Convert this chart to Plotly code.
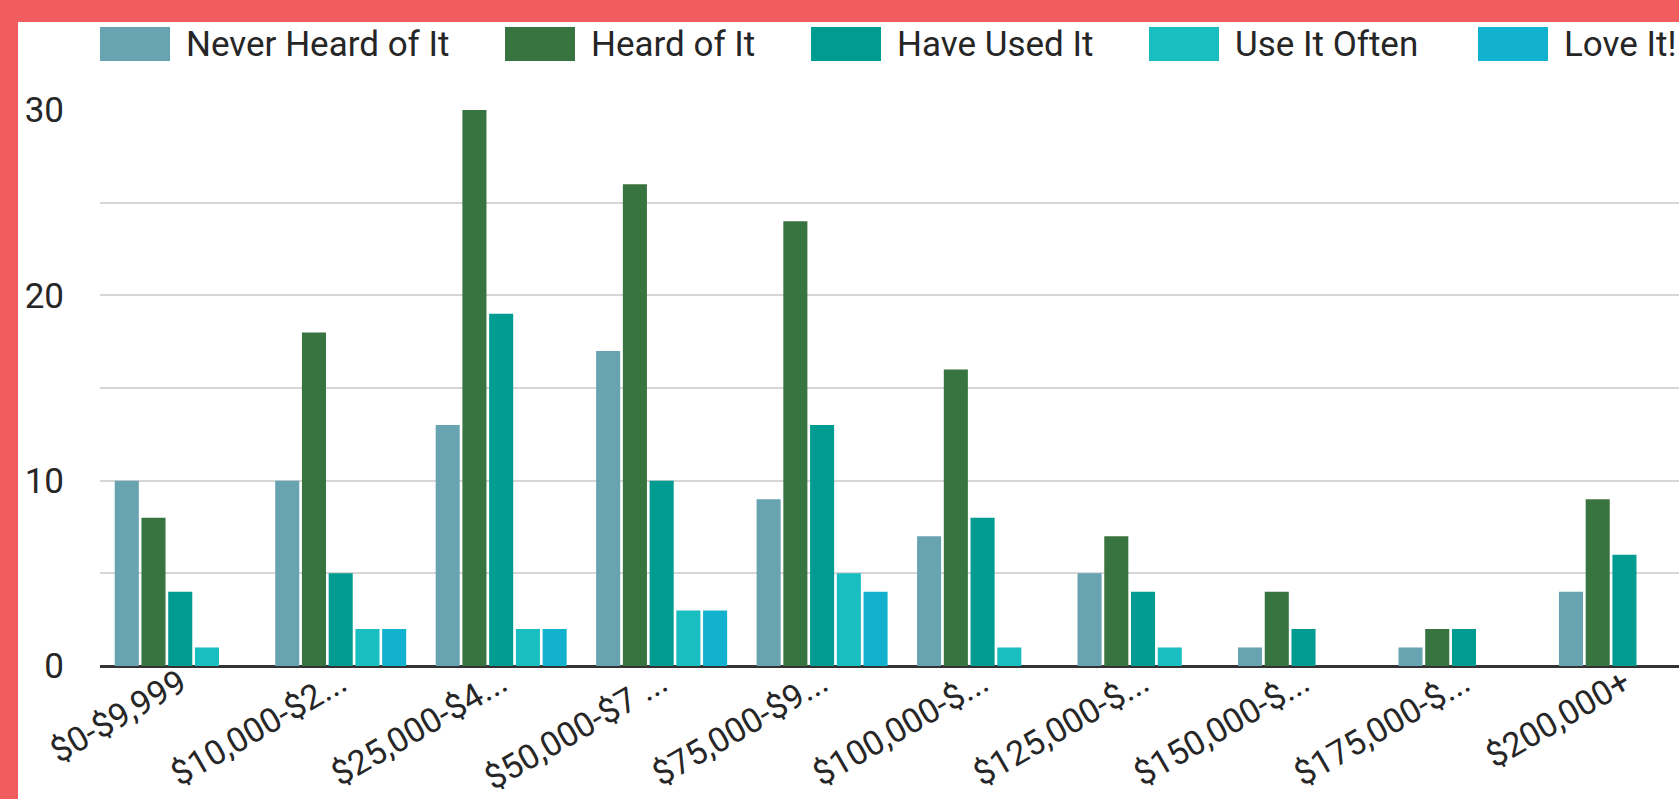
import plotly.graph_objects as go

# ---------------- data ----------------
categories = ["$0-$9,999", "$10,000-$2...", "$25,000-$4...", "$50,000-$7 ...",
              "$75,000-$9...", "$100,000-$...", "$125,000-$...", "$150,000-$...",
              "$175,000-$...", "$200,000+"]
series_names = ["Never Heard of It", "Heard of It", "Have Used It", "Use It Often", "Love It!"]
never_heard = [10, 10, 13, 17, 9, 7, 5, 1, 1, 4]
heard_of = [8, 18, 30, 26, 24, 16, 7, 4, 2, 9]
have_used = [4, 5, 19, 10, 13, 8, 4, 2, 2, 6]
use_often = [1, 2, 2, 3, 5, 1, 1, 0, 0, 0]
love_it = [0, 2, 2, 3, 4, 0, 0, 0, 0, 0]
y_tick_values = [0, 5, 10, 15, 20, 25, 30]
y_tick_labels = ["0", "", "10", "", "20", "", "30"]

# ---------------- style ----------------
colors = ["#67A3B0", "#387440", "#009B91", "#19BEC0", "#12B2CE"]
series_values = [never_heard, heard_of, have_used, use_often, love_it]
W, H = 1679, 799
ML, MR, MT, MB = 100, 0, 110, 133
PW, PH = W - ML - MR, H - MT - MB
FONT = "Roboto"
TEXT = "#262626"
RED = "#F15D5E"


def px_x(px):
    return (px - ML) / PW


def px_y(py):
    return (H - MB - py) / PH


fig = go.Figure()
for name, vals, col in zip(series_names, series_values, colors):
    fig.add_trace(go.Bar(x=categories, y=vals, name=name,
                         marker=dict(color=col, line=dict(width=0)),
                         showlegend=False))

shapes = []
annotations = []
# red frame (top and left)
shapes.append(dict(type="rect", xref="paper", yref="paper", x0=px_x(0), x1=px_x(W),
                   y0=px_y(22), y1=px_y(0), fillcolor=RED, line=dict(width=0), layer="above"))
shapes.append(dict(type="rect", xref="paper", yref="paper", x0=px_x(0), x1=px_x(18),
                   y0=px_y(H), y1=px_y(0), fillcolor=RED, line=dict(width=0), layer="above"))

# custom legend
legend_x = [100, 505, 811, 1149, 1478]
sw_w, sw_top, sw_bot = 70, 27, 61
for name, col, x0 in zip(series_names, colors, legend_x):
    shapes.append(dict(type="rect", xref="paper", yref="paper",
                       x0=px_x(x0), x1=px_x(x0 + sw_w), y0=px_y(sw_bot), y1=px_y(sw_top),
                       fillcolor=col, line=dict(width=0), layer="above"))
    annotations.append(dict(xref="paper", yref="paper", x=px_x(x0 + sw_w + 14),
                            y=px_y((sw_top + sw_bot) / 2), text=name, showarrow=False,
                            xanchor="left", yanchor="middle",
                            font=dict(family=FONT, size=35, color=TEXT)))

fig.update_layout(
    width=W, height=H, autosize=False,
    margin=dict(l=ML, r=MR, t=MT, b=MB, pad=0, autoexpand=False),
    paper_bgcolor="white", plot_bgcolor="white",
    barmode="group", bargap=0.167, bargroupgap=0.1,
    shapes=shapes, annotations=annotations,
    font=dict(family=FONT, color=TEXT),
)
fig.update_xaxes(
    type="category", range=[-0.5, 9.34], showgrid=False, showline=False,
    automargin=False,
    tickangle=-30, tickfont=dict(family=FONT, size=34, color=TEXT),
    ticks="", ticklabelstandoff=-10,
)
fig.update_yaxes(
    range=[0, 30], tickvals=y_tick_values, ticktext=y_tick_labels,
    automargin=False,
    showgrid=True, gridcolor="#D6D6D6", gridwidth=2,
    zeroline=True, zerolinecolor="#333333", zerolinewidth=3,
    tickfont=dict(family=FONT, size=35, color=TEXT),
    ticks="outside", ticklen=28, tickcolor="rgba(0,0,0,0)",
)

fig.write_html("out.html")
